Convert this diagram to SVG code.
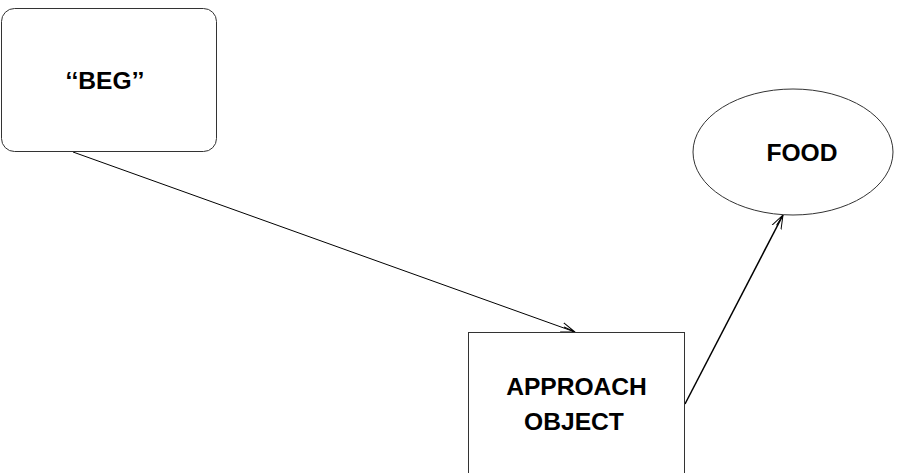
<svg xmlns="http://www.w3.org/2000/svg" width="915" height="473" viewBox="0 0 915 473">
<style>
.node{fill:#fff;stroke:#333;stroke-width:1}
.lbl{font-family:"Liberation Sans",Arial,sans-serif;font-weight:bold;font-size:24.6px;fill:#000;text-anchor:middle}
.edge{fill:none;stroke:#000}
</style>
<defs>
<marker id="arr" markerUnits="userSpaceOnUse" markerWidth="16" markerHeight="12" refX="14" refY="5" orient="auto" viewBox="0 0 16 10">
<path d="M0,0 L14,5 L0,10 M2,4 L14,5" fill="none" stroke="#000" stroke-width="1"/>
</marker>
</defs>
<rect width="915" height="473" fill="#fff"/>
<g id="connectors">
<line class="edge" x1="73" y1="152" x2="575" y2="332" stroke-width="1" marker-end="url(#arr)"/>
<line class="edge" x1="685" y1="404" x2="783" y2="215" stroke-width="1.5" marker-end="url(#arr)"/>
</g>
<g id="beg">
<rect class="node" x="1.5" y="8.5" width="215" height="143" rx="13" ry="13"/>
<text class="lbl" x="105" y="89">‘‘BEG’’</text>
</g>
<g id="approach">
<rect class="node" x="468.5" y="332.5" width="216" height="160"/>
<text class="lbl" x="576.5" y="395">APPROACH</text>
<text class="lbl" x="574" y="430">OBJECT</text>
</g>
<g id="food">
<ellipse class="node" cx="793" cy="152" rx="100" ry="63" stroke="#000"/>
<text class="lbl" x="802" y="161">FOOD</text>
</g>
</svg>
